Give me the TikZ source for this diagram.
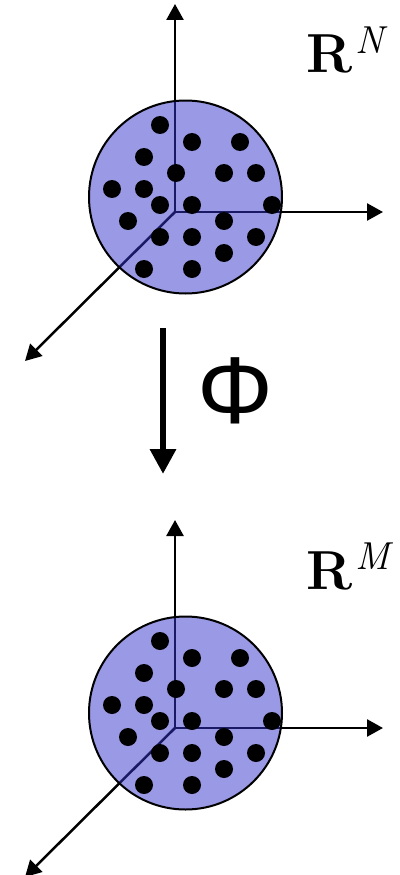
\documentclass[tikz,border=0pt]{standalone}
\usepackage{fontspec}
\usetikzlibrary{arrows.meta}
\newfontfamily\phifont{Liberation Sans}
\definecolor{ballfill}{HTML}{3333CC}

\tikzset{
  axis/.style={line width=2.5pt,-{Triangle[length=16pt,width=17pt]}},
  ball/.style={draw=black,line width=2pt,fill=ballfill,fill opacity=0.5},
  dot/.style={fill=black},
  spacelabel/.style={anchor=base west,inner sep=0pt,font=\fontsize{55}{60}\selectfont},
  maparrow/.style={line width=6.5pt,-{Triangle[length=25pt,width=25pt]}}
}
\newcommand{\spacename}[1]{\textbf{R}\kern3pt\raisebox{20pt}{\fontsize{39}{40}\selectfont\itshape #1}}

\begin{document}
\begin{tikzpicture}[x=1pt,y=-1pt]
  \useasboundingbox (0,0) rectangle (399,875);

  % the two spaces, one above the other
  \foreach \dy/\dimn/\nm in {0/N/top,516/M/bot}{
    \begin{scope}[shift={(0,\dy)}]
      \coordinate (\nm-o) at (175,212);
      \coordinate (\nm-z) at (175,4);
      \coordinate (\nm-x) at (383,212);
      \coordinate (\nm-y) at (25,361);
      % axes
      \draw[axis] (\nm-o) -- (\nm-z);
      \draw[axis] (\nm-o) -- (\nm-x);
      \draw[axis] (\nm-o) -- (\nm-y);
      % ball with points
      \fill[ball] (185.5,197) circle (96.5);
      \foreach \px/\py in {160/125,192/142,240/142,144/157,176/173,224/173,256/173,
                           112/189,144/189,160/205,192/205,272/205,128/221,224/221,
                           160/237,192/237,256/237,224/253,144/269,192/269}{
        \fill[dot] (\px,\py) circle (9);
      }
      \node[spacelabel] (\nm-lab) at (306,73) {\spacename{\dimn}};
    \end{scope}
  }

  % the map
  \coordinate (map-s) at (163,328);
  \coordinate (map-e) at (163,474);
  \draw[maparrow] (map-s) -- (map-e);
  \node[anchor=base west,inner sep=0pt,font=\phifont\fontsize{95}{96}\selectfont] (phi) at (197,423) {Φ};
\end{tikzpicture}
\end{document}
